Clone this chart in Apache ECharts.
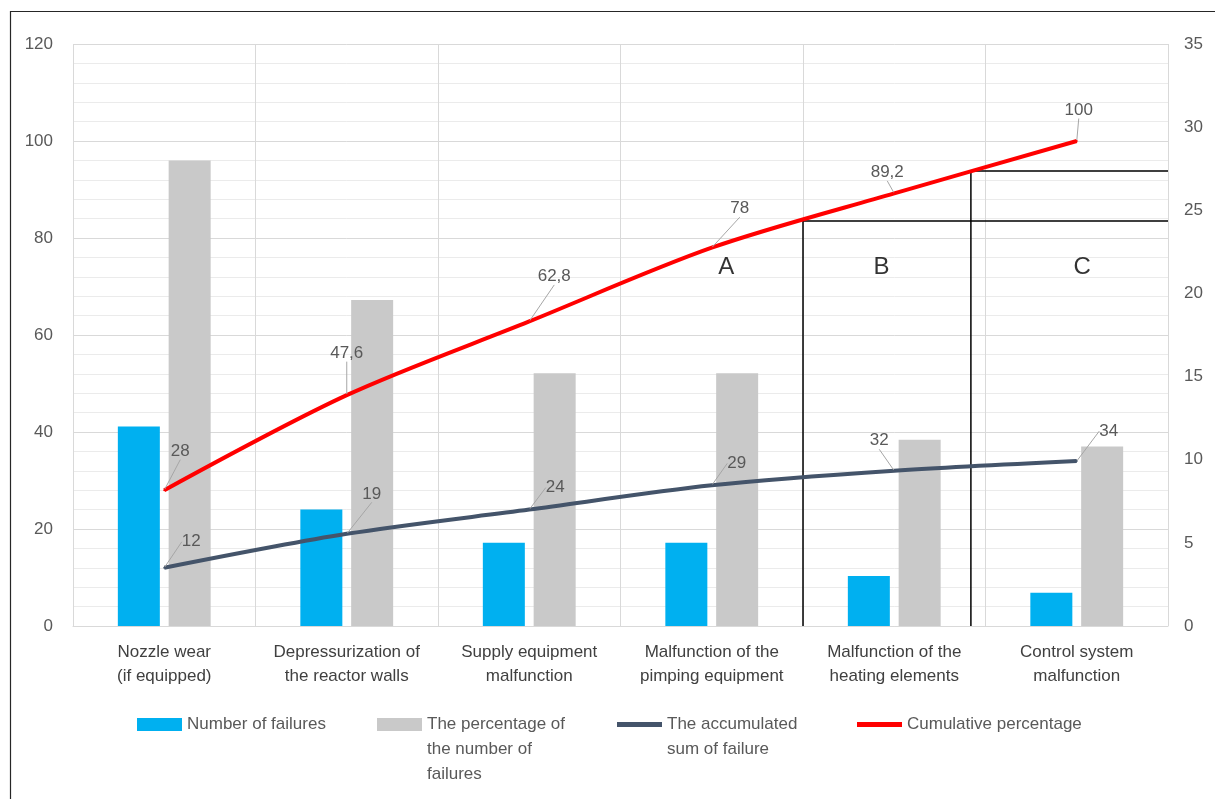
<!DOCTYPE html>
<html>
<head>
<meta charset="utf-8">
<script src="https://cdn.jsdelivr.net/npm/echarts@6/dist/echarts.min.js"></script>
<style>
html,body{margin:0;padding:0;background:#fff;}
#chart{width:1215px;height:799px;}
</style>
</head>
<body>
<div id="chart"></div>
<script>
// ---- data ----
const categories = [
  'Nozzle wear\n(if equipped)',
  'Depressurization of\nthe reactor walls',
  'Supply equipment\nmalfunction',
  'Malfunction of the\npimping equipment',
  'Malfunction of the\nheating elements',
  'Control system\nmalfunction'
];
const failures = [12, 7, 5, 5, 3, 2];                       // right axis
const failurePercent = [28, 19.6, 15.2, 15.2, 11.2, 10.8];   // right axis
const accumulated = [12, 19, 24, 29, 32, 34];               // left axis
const cumulativePercent = [28, 47.6, 62.8, 78, 89.2, 100];  // left axis
const leftTicks = [0, 120, 20];
const rightTicks = [0, 35, 5];
// ABC zones (x in category units 0..6, y on left axis)
const zoneAB = { x: 4, level: 83.5 };
const zoneBC = { x: 4.92, level: 93.8 };
const zoneNames = ['A', 'B', 'C'];
const zoneNameX = [3.58, 4.43, 5.53];
const zoneNameY = 74;

const seriesNames = ['Number of failures', 'The percentage of the number of failures',
  'The accumulated sum of failure', 'Cumulative percentage'];
const legendText = {
  'Number of failures': 'Number of failures',
  'The percentage of the number of failures': '\n\nThe percentage of\nthe number of\nfailures',
  'The accumulated sum of failure': '\nThe accumulated\nsum of failure',
  'Cumulative percentage': 'Cumulative percentage'
};

const FONT = '"Liberation Sans", Arial, sans-serif';
const cumOffsets = [[16,-39],[0,-42],[25,-45],[28,-39],[-7,-21],[2,-31]];
const accOffsets = [[27,-26],[25,-40],[26,-22],[25,-22],[-15,-30],[32,-30]];
function layoutWith(offs){
  return function(p){
    const o = offs[p.dataIndex] || [0,-20];
    const cx = p.rect.x + p.rect.width/2;
    const cy = p.rect.y + p.rect.height/2;
    return { x: cx + o[0], y: cy + o[1], align: 'center', verticalAlign: 'middle' };
  };
}
function commaFmt(p){ return String(p.value).replace('.', ','); }

const chart = echarts.init(document.getElementById('chart'), null, {renderer: 'canvas'});
const labelStyle = { show: true, color: '#595959', fontSize: 17, fontFamily: FONT, formatter: commaFmt };
const leaderLine = { show: true, lineStyle: { color: '#a6a6a6', width: 1 } };

chart.setOption({
  animation: false,
  backgroundColor: '#ffffff',
  textStyle: { fontFamily: FONT },
  graphic: [{
    type: 'rect', silent: true, z: 100,
    shape: { x: 10.5, y: 11.5, width: 1400, height: 1000 },
    style: { fill: 'none', stroke: '#262626', lineWidth: 1.2 }
  }],
  grid: { left: 73, right: 47, top: 44, bottom: 173 },
  legend: {
    left: 132, top: 657,
    itemWidth: 45, itemHeight: 13, itemGap: 40,
    data: [
      { name: seriesNames[0], icon: 'rect' },
      { name: seriesNames[1], icon: 'rect' },
      { name: seriesNames[2], icon: 'path://M0 0H45V5H0Z' },
      { name: seriesNames[3], icon: 'path://M0 0H45V5H0Z' }
    ],
    formatter: function(n){ return legendText[n]; },
    textStyle: { color: '#595959', fontSize: 17, fontFamily: FONT, lineHeight: 25, width: 150 }
  },
  xAxis: [{
    type: 'category', data: categories,
    axisLine: { lineStyle: { color: '#d9d9d9' } },
    axisTick: { show: false },
    splitLine: { show: true, interval: 0, lineStyle: { color: '#d9d9d9' } },
    axisLabel: { color: '#404040', fontSize: 17, fontFamily: FONT, lineHeight: 24, margin: 14, interval: 0 }
  }, {
    type: 'value', min: 0, max: 6, show: false
  }],
  yAxis: [{
    type: 'value', min: leftTicks[0], max: leftTicks[1], interval: leftTicks[2],
    axisLine: { show: false }, axisTick: { show: false },
    axisLabel: { color: '#595959', fontSize: 17, fontFamily: FONT, margin: 20 },
    splitLine: { lineStyle: { color: '#d9d9d9' } },
    minorTick: { show: false, splitNumber: 5 },
    minorSplitLine: { show: true, lineStyle: { color: '#ebebeb' } }
  }, {
    type: 'value', min: rightTicks[0], max: rightTicks[1], interval: rightTicks[2],
    axisLine: { show: false }, axisTick: { show: false },
    axisLabel: { color: '#595959', fontSize: 17, fontFamily: FONT, margin: 16 },
    splitLine: { show: false }
  }],
  series: [
    {
      name: seriesNames[0], type: 'bar', yAxisIndex: 1, data: failures,
      barWidth: 42, barGap: '21%', itemStyle: { color: '#00b0f0' }
    },
    {
      name: seriesNames[1], type: 'bar', yAxisIndex: 1, data: failurePercent,
      barWidth: 42, itemStyle: { color: '#c9c9c9' }
    },
    {
      name: seriesNames[2], type: 'line', yAxisIndex: 0, data: accumulated,
      smooth: 0.3, symbol: 'circle', symbolSize: 2, z: 5,
      itemStyle: { color: '#44546a' },
      lineStyle: { color: '#44546a', width: 4 },
      label: labelStyle, labelLine: leaderLine,
      labelLayout: layoutWith(accOffsets)
    },
    {
      name: seriesNames[3], type: 'line', yAxisIndex: 0, data: cumulativePercent,
      smooth: 0.3, symbol: 'circle', symbolSize: 2, z: 6,
      itemStyle: { color: '#ff0000' },
      lineStyle: { color: '#ff0000', width: 4 },
      label: labelStyle, labelLine: leaderLine,
      labelLayout: layoutWith(cumOffsets)
    },
    {
      name: 'zoneAB', type: 'line', xAxisIndex: 1, yAxisIndex: 0, silent: true, z: 4,
      symbol: 'none', lineStyle: { color: '#000', width: 1.5 },
      data: [[zoneAB.x, 0], [zoneAB.x, zoneAB.level], [6, zoneAB.level]]
    },
    {
      name: 'zoneBC', type: 'line', xAxisIndex: 1, yAxisIndex: 0, silent: true, z: 4,
      symbol: 'none', lineStyle: { color: '#000', width: 1.5 },
      data: [[zoneBC.x, 0], [zoneBC.x, zoneBC.level], [6, zoneBC.level]]
    },
    {
      name: 'zones', type: 'scatter', xAxisIndex: 1, yAxisIndex: 0, silent: true,
      symbolSize: 0,
      data: zoneNames.map((n, i) => ({ name: n, value: [zoneNameX[i], zoneNameY] })),
      label: { show: true, position: 'inside', formatter: '{b}', color: '#000', fontSize: 24, fontFamily: FONT }
    }
  ]
});
</script>
</body>
</html>
